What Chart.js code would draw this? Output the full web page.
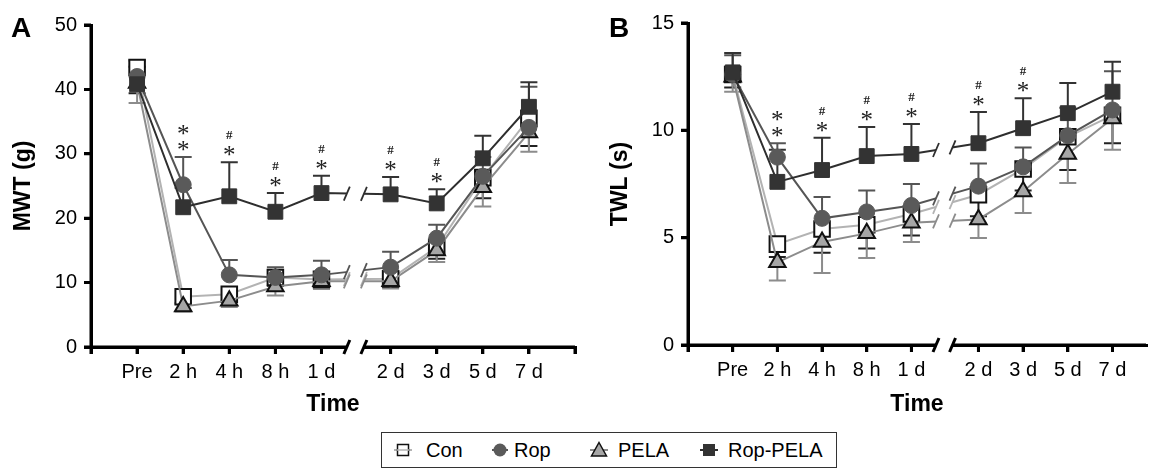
<!DOCTYPE html>
<html>
<head>
<meta charset="utf-8">
<script src="https://cdn.jsdelivr.net/npm/chart.js@4"></script>
<style>
body{margin:0;background:#fff;width:1159px;height:468px;position:relative;overflow:hidden;font-family:"Liberation Sans",Arial,sans-serif;}
canvas{position:absolute;top:0;}
#cA{left:0;}
#cB{left:590px;}
.tag{position:absolute;font-weight:bold;font-size:28px;line-height:28px;}
#legend{position:absolute;left:381px;top:432px;width:454px;height:34px;border:1px solid #333;font-size:20px;}
#legend svg{position:absolute;top:7px;}
#legend span{position:absolute;top:6px;line-height:22px;}
</style>
</head>
<body>
<canvas id="cA" width="590" height="420"></canvas>
<canvas id="cB" width="569" height="420"></canvas>
<div class="tag" style="left:11px;top:14px">A</div>
<div class="tag" style="left:609px;top:14px">B</div>
<div id="legend"></div>
<script>
// time points and groups
const timeLabels = ["Pre", "2 h", "4 h", "8 h", "1 d", "2 d", "3 d", "5 d", "7 d"];
const seriesNames = ["Con", "Rop", "PELA", "Rop-PELA"];

// panel A - MWT (g)
const mwtCon      = [43.4, 7.8, 8.2, 10.8, 10.5, 10.6, 15.5, 26.3, 35.5];
const mwtRop      = [42.0, 25.2, 11.2, 10.8, 11.2, 12.4, 16.9, 26.5, 34.1];
const mwtPela     = [41.0, 6.3, 7.2, 9.4, 10.2, 10.2, 15.0, 24.8, 33.3];
const mwtRopPela  = [40.8, 21.7, 23.4, 21.0, 23.9, 23.7, 22.3, 29.3, 37.3];
const mwtConErr     = [4.0, 1.0, 1.0, 1.3, 1.4, 1.3, 1.8, 3.2, 4.3];
const mwtRopErr     = [2.5, 4.3, 2.3, 1.6, 2.2, 2.4, 2.1, 3.0, 6.3];
const mwtPelaErr    = [3.1, 0.8, 1.0, 1.4, 1.2, 1.1, 1.8, 3.0, 3.0];
const mwtRopPelaErr = [2.7, 3.0, 5.3, 2.9, 2.7, 2.7, 2.2, 3.5, 3.8];
const mwtMarks = ["", "**", "#*", "#*", "#*", "#*", "#*", "", ""];

// panel B - TWL (s)
const twlCon      = [12.6, 4.7, 5.4, 5.6, 6.1, 7.0, 8.2, 9.7, 10.7];
const twlRop      = [12.6, 8.75, 5.9, 6.2, 6.5, 7.4, 8.3, 9.75, 10.95];
const twlPela     = [12.5, 3.85, 4.8, 5.2, 5.7, 5.85, 7.15, 8.9, 10.55];
const twlRopPela  = [12.7, 7.6, 8.15, 8.8, 8.9, 9.4, 10.1, 10.8, 11.8];
const twlConErr     = [0.6, 0.6, 1.1, 1.1, 1.0, 1.0, 1.0, 1.55, 1.3];
const twlRopErr     = [0.9, 0.65, 1.0, 1.0, 1.0, 1.05, 0.9, 1.3, 1.8];
const twlPelaErr    = [0.7, 0.85, 1.45, 1.15, 0.9, 0.87, 1.0, 1.35, 1.45];
const twlRopPelaErr = [0.9, 1.5, 1.5, 1.35, 1.4, 1.45, 1.4, 1.4, 1.4];
const twlMarks = ["", "**", "#*", "#*", "#*", "#*", "#*", "", ""];

// axis break between 1 d and 2 d
const breakIndex = 5, breakShift = 0.5;
const gapStart = 5.55, gapEnd = 5.92;
function xPos(i){ return i + 1 + (i >= breakIndex ? breakShift : 0); }

const styles = [
  {line:"#b3b3b3", shape:"rect", r:11, fill:"#ffffff", edge:"#111", ew:2, err:"#222", dir:-1, order:4},
  {line:"#555555", shape:"circle", r:8, fill:"#5a5a5a", edge:"#5a5a5a", ew:1, err:"#555", dir:1, order:2},
  {line:"#8c8c8c", shape:"triangle", r:9.5, fill:"#a6a6a6", edge:"#111", ew:2, err:"#8c8c8c", dir:-1, order:3},
  {line:"#2e2e2e", shape:"rect", r:10.5, fill:"#333333", edge:"#333", ew:1, err:"#333", dir:1, order:1}
];

function makeSets(vals, errs){
  return seriesNames.map((name, k) => ({
    label: name,
    data: vals[k].map((v, i) => ({x: xPos(i), y: v})),
    err: errs[k],
    errDir: styles[k].dir,
    errColor: styles[k].err,
    borderColor: styles[k].line,
    borderWidth: 2,
    pointStyle: styles[k].shape,
    pointRadius: styles[k].r,
    pointBackgroundColor: styles[k].fill,
    pointBorderColor: styles[k].edge,
    pointBorderWidth: styles[k].ew,
    order: styles[k].order,
    tension: 0,
    clip: false
  }));
}

// heavy black axis lines and tick marks
const axisLines = {
  id: "axisLines",
  beforeDatasetsDraw(chart){
    const ctx = chart.ctx, ca = chart.chartArea, xs = chart.scales.x, ys = chart.scales.y;
    ctx.save();
    ctx.strokeStyle = "#000";
    ctx.lineWidth = 3;
    ctx.beginPath();
    ctx.moveTo(ca.left, ca.top); ctx.lineTo(ca.left, ca.bottom + 1.5);
    ctx.moveTo(ca.left - 1.5, ca.bottom); ctx.lineTo(ca.right, ca.bottom);
    ys.ticks.forEach(t => { const y = ys.getPixelForValue(t.value); ctx.moveTo(ca.left - 7, y); ctx.lineTo(ca.left, y); });
    xs.ticks.forEach(t => { const x = xs.getPixelForValue(t.value); ctx.moveTo(x, ca.bottom); ctx.lineTo(x, ca.bottom + 7); });
    ctx.stroke();
    ctx.restore();
  }
};

const errorBars = {
  id: "errorBars",
  beforeDatasetsDraw(chart){
    const ctx = chart.ctx, ys = chart.scales.y;
    chart.data.datasets.forEach((ds, k) => {
      const meta = chart.getDatasetMeta(k);
      ctx.save();
      ctx.strokeStyle = ds.errColor;
      ctx.lineWidth = 2;
      meta.data.forEach((pt, i) => {
        const end = ys.getPixelForValue(ds.data[i].y + ds.errDir * ds.err[i]);
        ctx.beginPath();
        ctx.moveTo(pt.x, pt.y);
        ctx.lineTo(pt.x, end);
        ctx.moveTo(pt.x - 8.5, end);
        ctx.lineTo(pt.x + 8.5, end);
        ctx.stroke();
      });
      ctx.restore();
    });
  }
};

const axisBreak = {
  id: "axisBreak",
  afterDatasetsDraw(chart){
    const ctx = chart.ctx, xs = chart.scales.x, ca = chart.chartArea;
    const x1 = xs.getPixelForValue(gapStart), x2 = xs.getPixelForValue(gapEnd);
    ctx.save();
    ctx.fillStyle = "#fff";
    ctx.fillRect(x1, ca.top, x2 - x1, ca.bottom - ca.top + 3);
    const slash = (x, y, col, w) => {
      ctx.strokeStyle = col; ctx.lineWidth = w;
      ctx.beginPath(); ctx.moveTo(x - 3, y + 7); ctx.lineTo(x + 3, y - 7); ctx.stroke();
    };
    chart.data.datasets.forEach((ds, k) => {
      const d = chart.getDatasetMeta(k).data;
      const a = d[breakIndex - 1], b = d[breakIndex];
      const yAt = x => a.y + (b.y - a.y) * (x - a.x) / (b.x - a.x);
      slash(x1, yAt(x1), ds.borderColor, 1.8);
      slash(x2, yAt(x2), ds.borderColor, 1.8);
    });
    slash(x1, ca.bottom, "#000", 3);
    slash(x2, ca.bottom, "#000", 3);
    ctx.restore();
  }
};

const sigMarks = {
  id: "sigMarks",
  afterDatasetsDraw(chart, args, opts){
    const ctx = chart.ctx, ys = chart.scales.y;
    ctx.save();
    ctx.fillStyle = "#222";
    ctx.textAlign = "center";
    opts.marks.forEach((m, i) => {
      if (!m) return;
      let top = Infinity, x = 0;
      chart.data.datasets.forEach((ds, k) => {
        if (ds.errDir < 0) return;
        const p = ys.getPixelForValue(ds.data[i].y + ds.err[i]);
        x = chart.getDatasetMeta(k).data[i].x;
        top = Math.min(top, p);
      });
      let cy = top - 11;
      for (let j = m.length - 1; j >= 0; j--) {
        const ch = m[j];
        ctx.font = ch === "*" ? '25px "Liberation Serif"' : 'bold 13px "Liberation Serif"';
        const mt = ctx.measureText(ch);
        const base = cy + (mt.actualBoundingBoxAscent - mt.actualBoundingBoxDescent) / 2;
        ctx.fillText(ch, x, base);
        cy -= 16;
      }
    });
    ctx.restore();
  }
};

function makeChart(id, sets, opt){
  const tickVals = [0].concat(timeLabels.map((_, i) => xPos(i))).concat(opt.endTick ? [opt.xMax] : []);
  const axisGrid = {drawOnChartArea: false, color: "#000", lineWidth: 3, tickLength: 7, tickWidth: 3, tickColor: "#000"};
  return new Chart(document.getElementById(id), {
    type: "line",
    data: {datasets: sets},
    plugins: [axisLines, errorBars, axisBreak, sigMarks],
    options: {
      responsive: false,
      animation: false,
      devicePixelRatio: 1,
      layout: {padding: {left: 0, right: opt.padRight, top: opt.top, bottom: 0}},
      plugins: {legend: {display: false}, tooltip: {enabled: false}, sigMarks: {marks: opt.marks}},
      scales: {
        x: {
          type: "linear", min: 0, max: opt.xMax,
          afterBuildTicks: s => { s.ticks = tickVals.map(v => ({value: v})); },
          afterFit: s => { s.height = opt.xh; },
          grid: axisGrid,
          border: {color: "#000", width: 3},
          ticks: {
            autoSkip: false, maxRotation: 0, padding: 6, color: "#000",
            font: {family: '"Liberation Sans", Arial', size: 20},
            callback: v => { const j = timeLabels.findIndex((_, i) => Math.abs(xPos(i) - v) < 1e-6); return j >= 0 ? timeLabels[j] : ""; }
          },
          title: {display: true, text: "Time", color: "#000", padding: {top: 4, bottom: 2},
                  font: {family: '"Liberation Sans", Arial', size: 23, weight: "bold"}}
        },
        y: {
          min: 0, max: opt.yMax,
          afterFit: s => { s.width = opt.yw; },
          grid: axisGrid,
          border: {color: "#000", width: 3},
          ticks: {stepSize: opt.yStep, padding: 7, color: "#000", font: {family: '"Liberation Sans", Arial', size: 20}},
          title: {display: true, text: opt.yTitle, color: "#000", padding: {top: opt.yTitlePad, bottom: 0},
                  font: {family: '"Liberation Sans", Arial', size: 23, weight: "bold"}}
        }
      }
    }
  });
}

makeChart("cA", makeSets([mwtCon, mwtRop, mwtPela, mwtRopPela], [mwtConErr, mwtRopErr, mwtPelaErr, mwtRopPelaErr]),
  {xMax: 10.5, endTick: true, padRight: 15, top: 25, xh: 73, yw: 91, yMax: 50, yStep: 10, yTitle: "MWT (g)", yTitlePad: 10, marks: mwtMarks});
makeChart("cB", makeSets([twlCon, twlRop, twlPela, twlRopPela], [twlConErr, twlRopErr, twlPelaErr, twlRopPelaErr]),
  {xMax: 10.25, endTick: false, padRight: 0, top: 23, xh: 75, yw: 98, yMax: 15, yStep: 5, yTitle: "TWL (s)", yTitlePad: 17, marks: twlMarks});

// legend
const legendIcon = [
  '<line x1="3" y1="10" x2="21" y2="10" stroke="#b3b3b3" stroke-width="2"/><rect x="6.5" y="4.5" width="11" height="11" fill="#fff" stroke="#111" stroke-width="1.5"/><line x1="6" y1="10" x2="18" y2="10" stroke="#b3b3b3" stroke-width="1.5"/>',
  '<line x1="4" y1="10" x2="20" y2="10" stroke="#555" stroke-width="2"/><circle cx="12" cy="10" r="6.5" fill="#5a5a5a"/>',
  '<line x1="3" y1="10" x2="21" y2="10" stroke="#8c8c8c" stroke-width="2"/><polygon points="12,2.5 19.5,16 4.5,16" fill="#a6a6a6" stroke="#111" stroke-width="1.5"/>',
  '<line x1="3" y1="10" x2="21" y2="10" stroke="#2e2e2e" stroke-width="2"/><rect x="6" y="4" width="12" height="12" fill="#333"/>'
];
const legendIconX = [9, 106, 205, 315];
const legendTextX = [44, 132, 236, 346];
const legend = document.getElementById("legend");
seriesNames.forEach((name, k) => {
  const svg = document.createElementNS("http://www.w3.org/2000/svg", "svg");
  svg.setAttribute("width", "24"); svg.setAttribute("height", "20");
  svg.style.left = legendIconX[k] + "px";
  svg.innerHTML = legendIcon[k];
  const tx = document.createElement("span");
  tx.style.left = legendTextX[k] + "px";
  tx.textContent = name;
  legend.appendChild(svg);
  legend.appendChild(tx);
});
</script>
</body>
</html>
